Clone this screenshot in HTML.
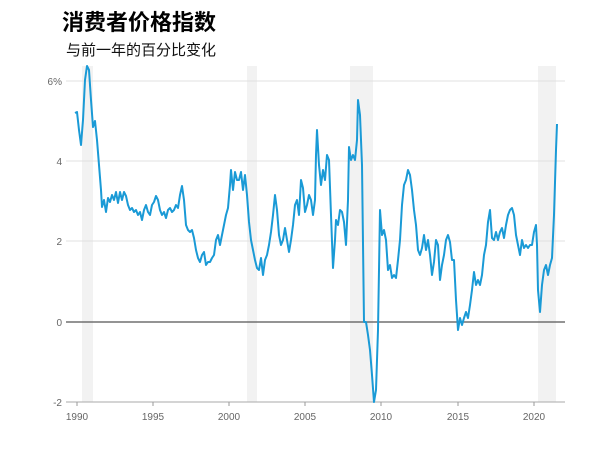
<!DOCTYPE html>
<html><head><meta charset="utf-8"><style>
body{margin:0;background:#fff;width:607px;height:470px;overflow:hidden;font-family:"Liberation Sans","Noto Sans CJK SC",sans-serif}
</style></head><body>
<svg width="607" height="470" xmlns="http://www.w3.org/2000/svg">
<text x="62" y="30" font-size="22" font-weight="bold" fill="#000" font-family="Liberation Sans,Noto Sans CJK SC,sans-serif">消费者价格指数</text>
<text x="66" y="55" font-size="15" fill="#111" font-family="Liberation Sans,Noto Sans CJK SC,sans-serif">与前一年的百分比变化</text>
<g fill="#f2f2f2">
<rect x="82" y="66" width="11" height="336"/>
<rect x="247" y="66" width="10" height="336"/>
<rect x="350" y="66" width="23" height="336"/>
<rect x="538" y="66" width="18" height="336"/>
</g>
<g stroke="#e0e0e0" stroke-width="1">
<line x1="66" y1="81" x2="565" y2="81"/>
<line x1="66" y1="161" x2="565" y2="161"/>
<line x1="66" y1="241" x2="565" y2="241"/>
</g>
<line x1="66" y1="322" x2="565" y2="322" stroke="#555" stroke-width="1.2"/>
<line x1="66" y1="402" x2="565" y2="402" stroke="#aaa" stroke-width="1"/>
<g font-size="10" fill="#666" text-anchor="end" font-family="Liberation Sans,sans-serif">
<text x="62" y="85">6%</text><text x="62" y="165">4</text><text x="62" y="245">2</text><text x="62" y="326">0</text><text x="62" y="406">-2</text>
</g>
<g stroke="#999"><line x1="77" y1="402" x2="77" y2="406"/><line x1="153" y1="402" x2="153" y2="406"/><line x1="229" y1="402" x2="229" y2="406"/><line x1="305" y1="402" x2="305" y2="406"/><line x1="381" y1="402" x2="381" y2="406"/><line x1="458" y1="402" x2="458" y2="406"/><line x1="534" y1="402" x2="534" y2="406"/></g>
<g font-size="10" fill="#666" text-anchor="middle" font-family="Liberation Sans,sans-serif">
<text x="77" y="420">1990</text><text x="153" y="420">1995</text><text x="229" y="420">2000</text><text x="305" y="420">2005</text><text x="381" y="420">2010</text><text x="458" y="420">2015</text><text x="534" y="420">2020</text>
</g>
<polyline fill="none" stroke="#1a9ad6" stroke-width="2" stroke-linejoin="round" points="75,113 77,112 79,130 81,145 83,120 85,80 87,66 89,70 91,100 93,127 95,121 97,140 99,165 101,190 102,207 104,200 106,212 108,198 110,202 112,195 114,200 116,192 118,203 120,192 122,200 124,192 126,196 128,205 130,210 132,208 134,212 136,210 138,215 140,212 142,220 144,210 146,205 148,212 150,215 152,205 154,202 156,196 158,200 160,210 162,215 164,212 166,218 168,210 170,208 172,212 174,210 176,205 178,208 180,195 182,186 184,200 186,225 188,230 190,232 192,230 194,238 196,250 198,258 200,262 202,255 204,252 206,265 208,262 210,262 212,258 214,255 216,240 218,235 220,245 222,235 224,225 226,215 228,208 230,185 231,170 233,190 235,172 237,180 239,180 241,172 243,190 245,175 247,195 249,222 251,240 253,250 255,260 257,268 259,270 261,258 263,275 265,260 267,255 269,245 271,232 273,215 275,195 277,210 279,235 281,245 283,240 285,228 287,240 289,252 291,240 293,225 295,205 297,200 299,215 301,180 303,188 305,212 307,205 309,195 311,200 313,215 315,200 316,155 317,130 319,165 321,185 323,170 325,180 327,155 329,160 331,215 333,268 335,240 336,220 338,225 340,210 342,212 344,222 346,245 348,200 349,147 351,160 353,155 355,160 357,140 358,100 360,115 362,165 364,322 366,322 368,335 370,350 372,375 374,402 376,390 378,330 380,210 382,235 384,230 386,240 388,270 390,265 392,278 394,275 396,278 398,260 400,240 402,205 404,185 406,180 408,170 410,175 412,190 414,210 416,225 418,250 420,255 422,248 424,235 426,250 428,240 430,255 432,275 434,262 436,240 438,245 440,280 442,265 444,255 446,240 448,235 450,242 452,260 454,260 456,300 458,330 460,318 462,325 464,318 466,312 468,318 470,305 472,290 474,272 476,285 478,280 480,285 482,275 484,255 486,245 488,222 490,210 492,238 494,240 496,232 498,240 500,232 502,228 504,238 506,225 508,215 510,210 512,208 514,215 516,235 518,245 520,255 522,240 524,248 526,245 528,248 530,245 532,245 534,232 536,225 537,245 538,290 540,312 542,285 544,270 546,265 548,275 550,265 552,258 554,215 556,150 557,124"/>
</svg>
</body></html>
